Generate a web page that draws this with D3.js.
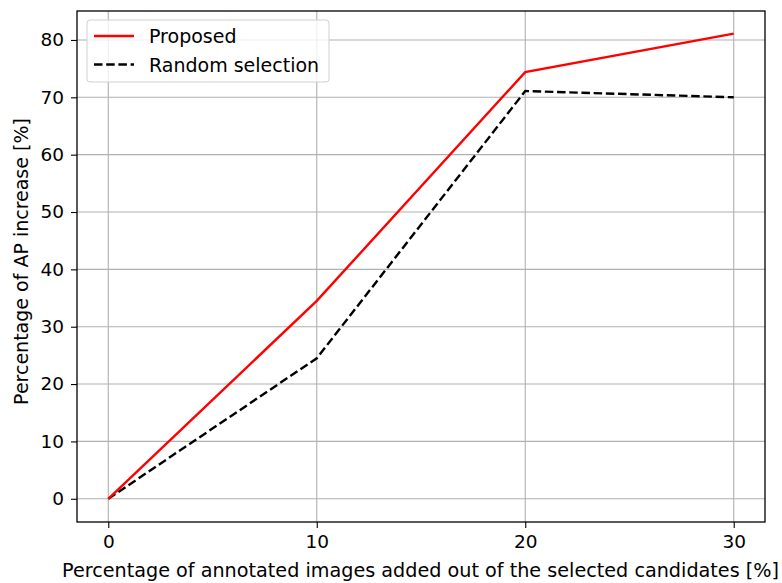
<!DOCTYPE html>
<html>
<head>
<meta charset="utf-8">
<script src="https://cdn.jsdelivr.net/npm/d3@7"></script>
<style>
  body { margin: 0; background: #fff; }
  svg text { font-family: "DejaVu Sans", sans-serif; fill: #000; }
</style>
</head>
<body>
<div id="chart"></div>
<script>
// data
const xValues = [0, 10, 20, 30];
const proposed = [0, 34.5, 74.4, 81.1];
const randomSel = [0, 24.5, 71.1, 70.0];
const xTicks = [0, 10, 20, 30];
const yTicks = [0, 10, 20, 30, 40, 50, 60, 70, 80];
const seriesNames = ['Proposed', 'Random selection'];

const width = 782, height = 583;
const margin = { top: 11, right: 17, bottom: 61, left: 77 };

const svg = d3.select('#chart').append('svg')
  .attr('width', width)
  .attr('height', height);

const x = d3.scaleLinear()
  .domain([-1.5, 31.5])
  .range([margin.left, width - margin.right]);

const y = d3.scaleLinear()
  .domain([-4.05, 85.05])
  .range([height - margin.bottom, margin.top]);

// grid
const grid = svg.append('g');
grid.selectAll('line.vx')
  .data(xTicks)
  .enter().append('line')
  .attr('x1', d => x(d)).attr('x2', d => x(d))
  .attr('y1', margin.top).attr('y2', height - margin.bottom)
  .attr('stroke', '#b0b0b0').attr('stroke-width', 1.1);
grid.selectAll('line.hy')
  .data(yTicks)
  .enter().append('line')
  .attr('x1', margin.left).attr('x2', width - margin.right)
  .attr('y1', d => y(d)).attr('y2', d => y(d))
  .attr('stroke', '#b0b0b0').attr('stroke-width', 1.1);

// lines
const line = d3.line()
  .x((d, i) => x(xValues[i]))
  .y(d => y(d));

svg.append('path')
  .datum(randomSel)
  .attr('d', line)
  .attr('fill', 'none')
  .attr('stroke', '#000')
  .attr('stroke-width', 2.4)
  .attr('stroke-dasharray', '8.5,3.7');

svg.append('path')
  .datum(proposed)
  .attr('d', line)
  .attr('fill', 'none')
  .attr('stroke', '#ff0000')
  .attr('stroke-width', 2.4);

// axes
const xAxis = svg.append('g')
  .attr('transform', `translate(0,${height - margin.bottom})`)
  .call(d3.axisBottom(x).tickValues(xTicks).tickSize(6).tickPadding(7).tickFormat(d3.format('d')));
const yAxis = svg.append('g')
  .attr('transform', `translate(${margin.left},0)`)
  .call(d3.axisLeft(y).tickValues(yTicks).tickSize(6).tickPadding(7).tickFormat(d3.format('d')));

[xAxis, yAxis].forEach(a => {
  a.select('.domain').remove();
  a.selectAll('.tick line').attr('stroke', '#000').attr('stroke-width', 1.1);
  a.selectAll('.tick text').style('font-size', '18.5px').attr('fill', '#000');
});

// frame
svg.append('rect')
  .attr('x', margin.left).attr('y', margin.top)
  .attr('width', width - margin.left - margin.right)
  .attr('height', height - margin.top - margin.bottom)
  .attr('fill', 'none').attr('stroke', '#000').attr('stroke-width', 1.3);

// axis titles
svg.append('text')
  .attr('x', 62).attr('y', 577)
  .attr('textLength', 717).attr('lengthAdjust', 'spacingAndGlyphs')
  .style('font-size', '19px')
  .text('Percentage of annotated images added out of the selected candidates [%]');

svg.append('text')
  .attr('transform', `translate(28,${(margin.top + height - margin.bottom) / 2 - 5}) rotate(-90)`)
  .attr('text-anchor', 'middle')
  .style('font-size', '19px')
  .text('Percentage of AP increase [%]');

// legend
const legend = svg.append('g');
legend.append('rect')
  .attr('x', 87).attr('y', 20).attr('width', 242).attr('height', 62)
  .attr('rx', 3)
  .attr('fill', '#fff').attr('fill-opacity', 0.8)
  .attr('stroke', '#d0d0d0');
const legendItems = [
  { name: seriesNames[0], color: '#ff0000', dash: null },
  { name: seriesNames[1], color: '#000', dash: '8.5,3.7' }
];
legendItems.forEach((item, i) => {
  const ly = 36 + i * 28.5;
  legend.append('line')
    .attr('x1', 94).attr('x2', 134).attr('y1', ly).attr('y2', ly)
    .attr('stroke', item.color).attr('stroke-width', 2.4)
    .attr('stroke-dasharray', item.dash);
  legend.append('text')
    .attr('x', 149).attr('y', ly + 7)
    .style('font-size', '19px')
    .text(item.name);
});
</script>
</body>
</html>
